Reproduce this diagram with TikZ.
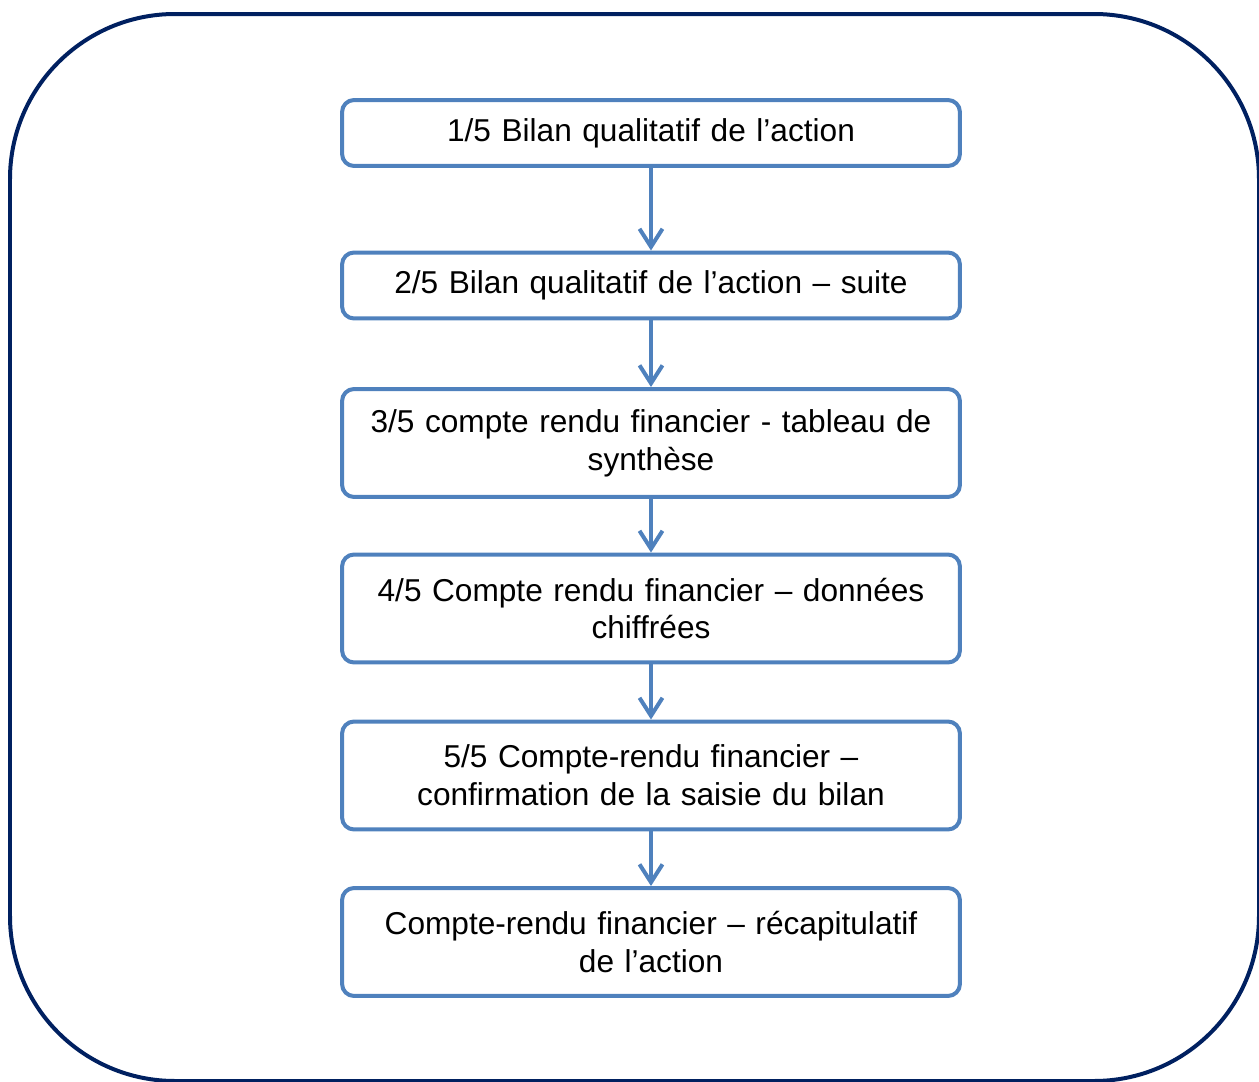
\documentclass[tikz,border=0pt]{standalone}
\usepackage{fontspec}
\setmainfont[WordSpace=0.6]{Liberation Sans}
\usetikzlibrary{arrows.meta, positioning}
\definecolor{stepblue}{RGB}{79,129,189}
\definecolor{framenavy}{RGB}{0,32,96}

\begin{document}
\begin{tikzpicture}[x=0.02cm, y=-0.02cm, font=\fontsize{18}{21.6}\selectfont,
    stepbox/.style={rectangle, rounded corners=0.24cm, draw=stepblue, line width=0.08cm,
        minimum width=12.36cm, minimum height=1.32cm, text width=12cm, align=center, inner sep=0pt},
    tallbox/.style={stepbox, minimum height=2.16cm},
    flow/.style={draw=stepblue, line width=0.08cm, -{Straight Barb[length=0.36cm, width=0.46cm, line width=0.08cm]}}
]
\useasboundingbox (0,0) rectangle (1259,1082);
\draw[framenavy, line width=0.08cm, rounded corners=3.3cm] (10,14) rectangle (1259,1081);

\node[stepbox] (s1) at (651,133) {1/5 Bilan qualitatif de l’action};
\node[stepbox] (s2) at (651,285.5) {2/5 Bilan qualitatif de l’action – suite};
\node[tallbox] (s3) at (651,443) {3/5 compte rendu financier - tableau de\\ synthèse};
\node[tallbox] (s4) at (651,608.5) {4/5 Compte rendu financier – données\\ chiffrées};
\node[tallbox] (s5) at (651,775.5) {5/5 Compte-rendu financier –\\ confirmation de la saisie du bilan};
\node[tallbox] (s6) at (651,942) {Compte-rendu financier – récapitulatif\\ de l’action};

\draw[flow] (s1) -- (s2);
\draw[flow] (s2) -- (s3);
\draw[flow] (s3) -- (s4);
\draw[flow] (s4) -- (s5);
\draw[flow] (s5) -- (s6);
\end{tikzpicture}
\end{document}
